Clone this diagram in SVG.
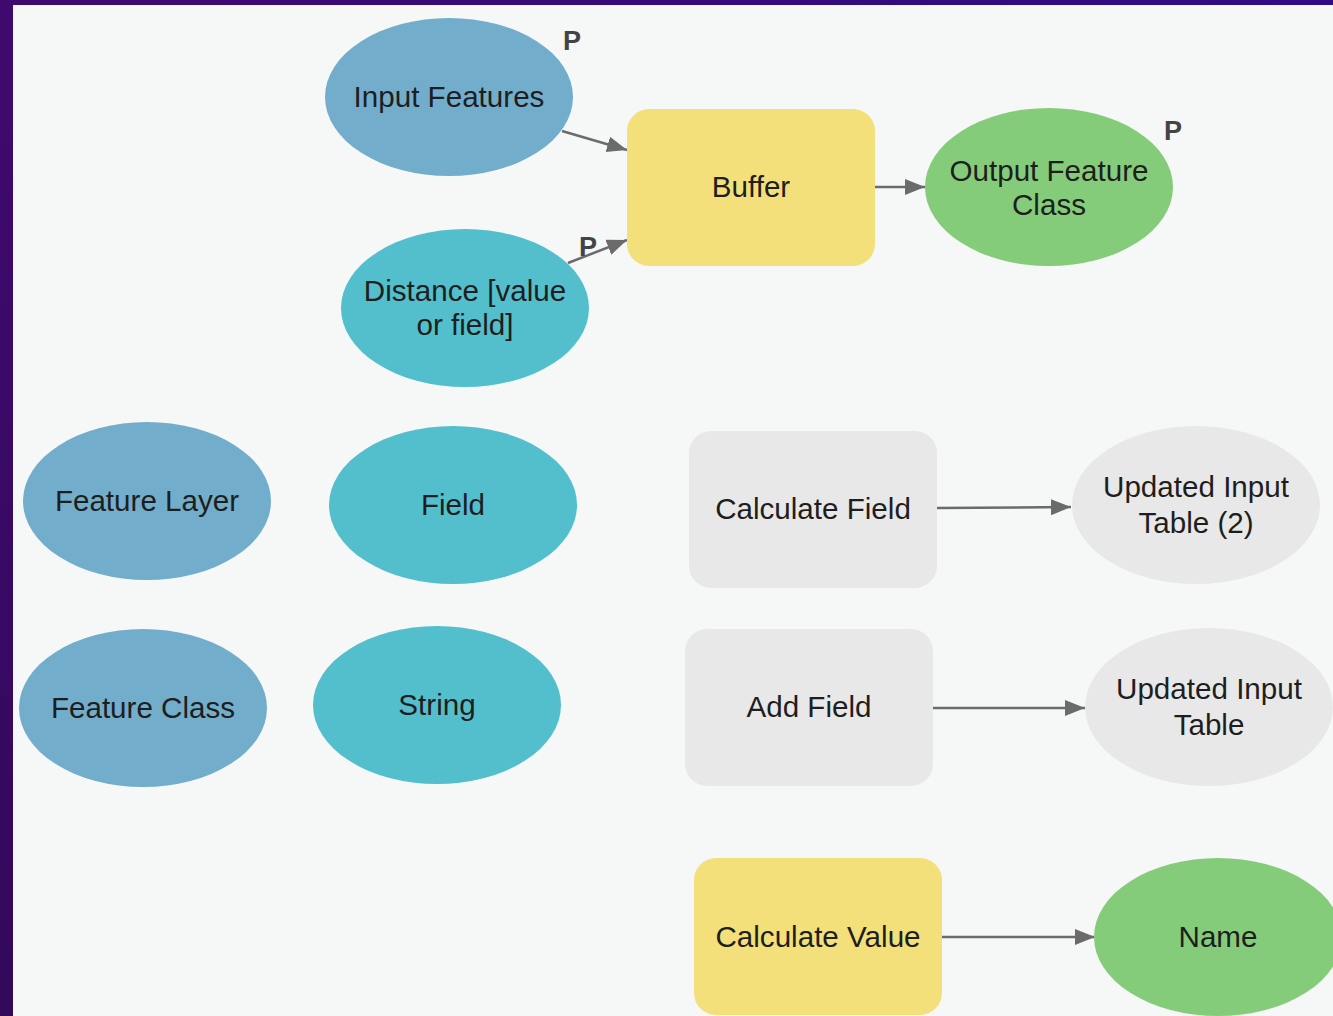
<svg xmlns="http://www.w3.org/2000/svg" width="1333" height="1016" viewBox="0 0 1333 1016">
<defs>
<linearGradient id="frame" x1="0" y1="1" x2="1" y2="0">
<stop offset="0" stop-color="#33095c"/>
<stop offset="0.5" stop-color="#3f0a6e"/>
<stop offset="1" stop-color="#2f0c86"/>
</linearGradient>
<marker id="arr" markerUnits="userSpaceOnUse" markerWidth="22" markerHeight="18" refX="20" refY="8" orient="auto">
<path d="M0,0 L20,8 L0,16 z" fill="#6b6b6b"/>
</marker>
<style>
.lbl{font-family:"Liberation Sans",Arial,sans-serif;font-size:29.6px;fill:#1e1e1e;text-anchor:middle}
.p{font-family:"Liberation Sans",Arial,sans-serif;font-size:27px;font-weight:bold;fill:#444;text-anchor:middle}
.blue{fill:#72aecb}
.cyan{fill:#53bfcd}
.green{fill:#85cc7a}
.yellow{fill:#f3e07a}
.gray{fill:#e8e8e8}
.edge{stroke:#6b6b6b;stroke-width:2.5;fill:none;marker-end:url(#arr)}
</style>
</defs>
<rect x="0" y="0" width="1333" height="1016" fill="url(#frame)"/>
<rect x="13" y="5" width="1320" height="1011" fill="#f6f8f8"/>

<g id="connectors">
<line class="edge" x1="562" y1="131" x2="627" y2="150"/>
<line class="edge" x1="568" y1="263" x2="627" y2="240"/>
<line class="edge" x1="875" y1="187" x2="925" y2="187"/>
<line class="edge" x1="937" y1="508" x2="1071" y2="507"/>
<line class="edge" x1="933" y1="708" x2="1085" y2="708"/>
<line class="edge" x1="942" y1="937" x2="1095" y2="937"/>
</g>

<g id="input-features">
<ellipse class="blue" cx="449" cy="97" rx="124" ry="79"/>
<text class="lbl" x="449" y="107">Input Features</text>
<text class="p" x="572" y="50">P</text>
</g>
<g id="buffer">
<rect class="yellow" x="627" y="109" width="248" height="157" rx="22"/>
<text class="lbl" x="751" y="197">Buffer</text>
</g>
<g id="output-feature-class">
<ellipse class="green" cx="1049" cy="187" rx="124" ry="79"/>
<text class="lbl" x="1049" y="181">Output Feature</text>
<text class="lbl" x="1049" y="215">Class</text>
<text class="p" x="1173" y="140">P</text>
</g>
<g id="distance">
<ellipse class="cyan" cx="465" cy="308" rx="124" ry="79"/>
<text class="lbl" x="465" y="301">Distance [value</text>
<text class="lbl" x="465" y="335">or field]</text>
<text class="p" x="588" y="256">P</text>
</g>
<g id="feature-layer">
<ellipse class="blue" cx="147" cy="501" rx="124" ry="79"/>
<text class="lbl" x="147" y="511">Feature Layer</text>
</g>
<g id="field">
<ellipse class="cyan" cx="453" cy="505" rx="124" ry="79"/>
<text class="lbl" x="453" y="515">Field</text>
</g>
<g id="calculate-field">
<rect class="gray" x="689" y="431" width="248" height="157" rx="22"/>
<text class="lbl" x="813" y="519">Calculate Field</text>
</g>
<g id="updated-input-table-2">
<ellipse class="gray" cx="1196" cy="505" rx="124" ry="79"/>
<text class="lbl" x="1196" y="497">Updated Input</text>
<text class="lbl" x="1196" y="533">Table (2)</text>
</g>
<g id="feature-class">
<ellipse class="blue" cx="143" cy="708" rx="124" ry="79"/>
<text class="lbl" x="143" y="718">Feature Class</text>
</g>
<g id="string">
<ellipse class="cyan" cx="437" cy="705" rx="124" ry="79"/>
<text class="lbl" x="437" y="715">String</text>
</g>
<g id="add-field">
<rect class="gray" x="685" y="629" width="248" height="157" rx="22"/>
<text class="lbl" x="809" y="717">Add Field</text>
</g>
<g id="updated-input-table">
<ellipse class="gray" cx="1209" cy="707" rx="124" ry="79"/>
<text class="lbl" x="1209" y="699">Updated Input</text>
<text class="lbl" x="1209" y="735">Table</text>
</g>
<g id="calculate-value">
<rect class="yellow" x="694" y="858" width="248" height="157" rx="22"/>
<text class="lbl" x="818" y="947">Calculate Value</text>
</g>
<g id="name">
<ellipse class="green" cx="1218" cy="937" rx="124" ry="79"/>
<text class="lbl" x="1218" y="947">Name</text>
</g>
</svg>
